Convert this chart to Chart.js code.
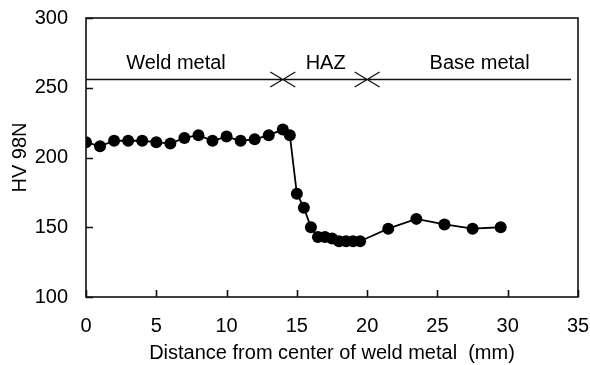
<!DOCTYPE html>
<html>
<head>
<meta charset="utf-8">
<style>
  html, body { margin: 0; padding: 0; background: #fff; }
  #wrap { width: 590px; height: 365px; }
</style>
<script src="https://cdn.jsdelivr.net/npm/chart.js@4/dist/chart.umd.min.js"></script>
</head>
<body>
<div id="wrap"><canvas id="hv"></canvas></div>
<script>
// Distance from weld centre (mm) and hardness (HV 98N)
const distance = [0, 1, 2, 3, 4, 5, 6, 7, 8, 9, 10, 11, 12, 13, 14, 14.5,
  15, 15.5, 16, 16.5, 17, 17.5, 18, 18.5, 19, 19.5, 21.5, 23.5, 25.5, 27.5, 29.5];
const hardness = [211, 208, 212, 212, 212, 211, 210, 214, 216, 212, 215, 212, 213, 216, 220, 216,
  174, 164, 150, 143, 143, 142, 140, 140, 140, 140, 149, 156, 152, 149, 150];

const xTicks = [0, 5, 10, 15, 20, 25, 30, 35];
const yTicks = [100, 150, 200, 250, 300];

// Zone markers along the top of the plot
const zoneNames = ['Weld metal', 'HAZ', 'Base metal'];
const zoneBounds = [14, 20];

const fontFamily = '"Liberation Sans", Arial, sans-serif';

// box, inward ticks and the zone bar
const decorPlugin = {
  id: 'decor',
  afterDraw(chart) {
    const { ctx, chartArea: a, scales: { x, y } } = chart;
    ctx.save();
    ctx.strokeStyle = '#111';
    ctx.lineWidth = 1.6;
    ctx.strokeRect(a.left, a.top, a.right - a.left, a.bottom - a.top);

    ctx.beginPath();
    xTicks.forEach(v => {
      const px = Math.round(x.getPixelForValue(v)) + 0.5;
      ctx.moveTo(px, a.bottom);
      ctx.lineTo(px, a.bottom - 7);
    });
    yTicks.forEach(v => {
      const py = Math.round(y.getPixelForValue(v)) + 0.5;
      ctx.moveTo(a.left, py);
      ctx.lineTo(a.left + 7, py);
    });
    ctx.stroke();

    // zone line
    ctx.lineWidth = 1.3;
    const ly = Math.round(y.getPixelForValue(256)) + 0.5;
    ctx.beginPath();
    ctx.moveTo(x.getPixelForValue(0), ly);
    ctx.lineTo(x.getPixelForValue(34.5), ly);
    zoneBounds.forEach(b => {
      const bx = x.getPixelForValue(b);
      ctx.moveTo(bx - 12.5, ly - 7.5);
      ctx.lineTo(bx + 12.5, ly + 7.5);
      ctx.moveTo(bx - 12.5, ly + 7.5);
      ctx.lineTo(bx + 12.5, ly - 7.5);
    });
    ctx.stroke();

    const labelX = [6.4, 17.05, 28.0];
    ctx.fillStyle = '#000';
    ctx.font = '20px ' + fontFamily;
    ctx.textAlign = 'center';
    ctx.textBaseline = 'middle';
    zoneNames.forEach((t, i) => {
      ctx.fillText(t, x.getPixelForValue(labelX[i]), ly - 16);
    });
    ctx.restore();
  }
};

const ctx = document.getElementById('hv').getContext('2d');
new Chart(ctx, {
  type: 'line',
  data: {
    datasets: [{
      data: distance.map((d, i) => ({ x: d, y: hardness[i] })),
      borderColor: '#000',
      borderWidth: 1.8,
      backgroundColor: '#000',
      pointBackgroundColor: '#000',
      pointBorderColor: '#000',
      pointRadius: 6,
      pointBorderWidth: 0,
      tension: 0
    }]
  },
  options: {
    responsive: true,
    maintainAspectRatio: false,
    animation: false,
    layout: { padding: { top: 18, right: 12, left: 0, bottom: 0 } },
    plugins: {
      legend: { display: false },
      tooltip: { enabled: false }
    },
    scales: {
      x: {
        type: 'linear',
        min: 0,
        max: 35,
        afterBuildTicks: s => { s.ticks = xTicks.map(v => ({ value: v })); },
        afterFit: s => { s.height = 68; s.paddingLeft = 0; s.paddingRight = 0; },
        grid: { display: false, drawTicks: false },
        border: { display: false },
        ticks: { color: '#000', padding: 17, maxRotation: 0, font: { family: fontFamily, size: 20 } },
        title: {
          display: true,
          text: 'Distance from center of weld metal  (mm)',
          color: '#000',
          padding: 0,
          font: { family: fontFamily, size: 20 }
        }
      },
      y: {
        min: 100,
        max: 300,
        afterBuildTicks: s => { s.ticks = yTicks.map(v => ({ value: v })); },
        afterFit: s => { s.width = 86; s.paddingTop = 0; s.paddingBottom = 0; },
        grid: { display: false, drawTicks: false },
        border: { display: false },
        ticks: { color: '#000', padding: 18, font: { family: fontFamily, size: 20 } },
        title: {
          display: true,
          text: 'HV 98N',
          color: '#000',
          padding: 8,
          font: { family: fontFamily, size: 20 }
        }
      }
    }
  },
  plugins: [decorPlugin]
});
</script>
</body>
</html>
